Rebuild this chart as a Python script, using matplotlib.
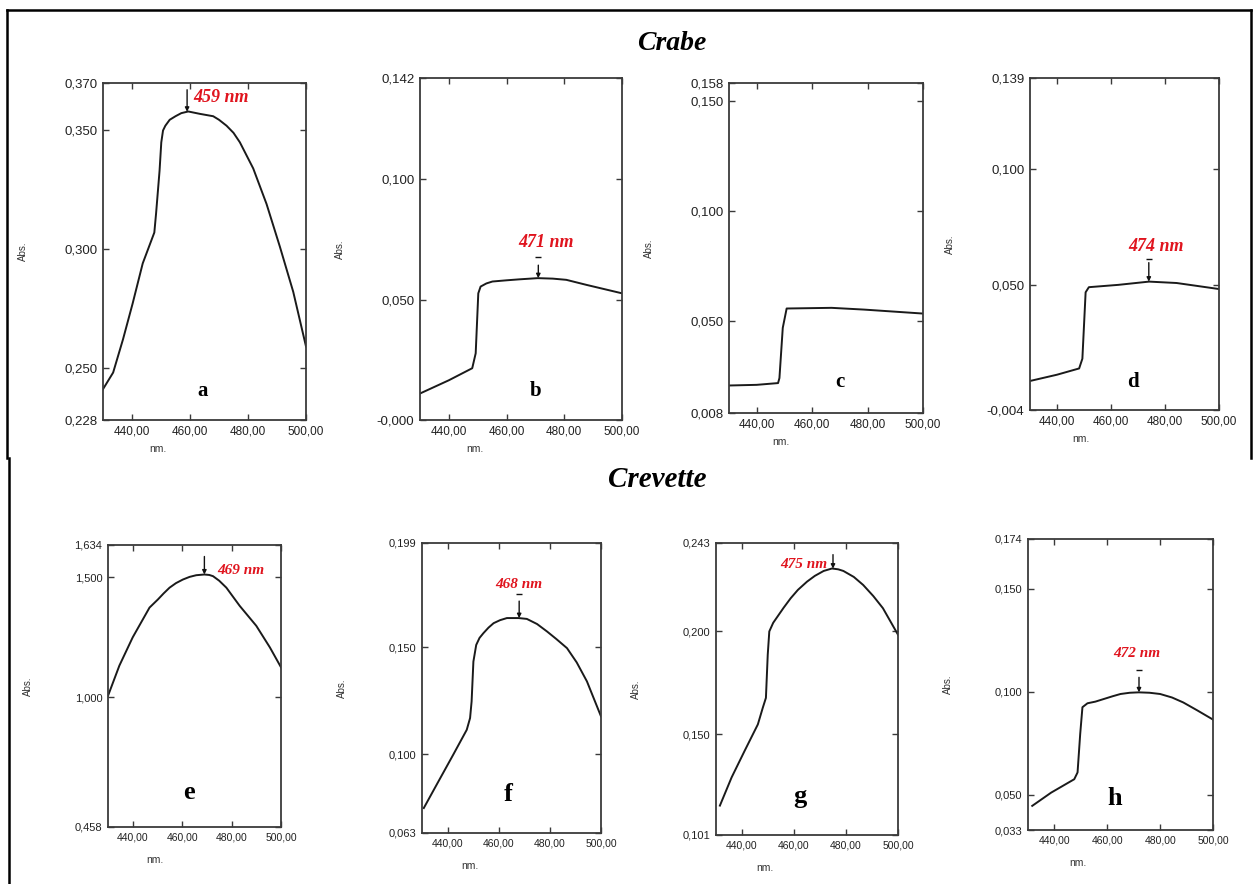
import numpy as np
import matplotlib
matplotlib.use('Agg')
import matplotlib.pyplot as plt
from matplotlib.lines import Line2D
from matplotlib.transforms import ScaledTranslation

# Spectra (wavelength in nm, absorbance)
wl_a = [430, 433.5, 436.9, 440.2, 443.7, 447.7, 448.3, 449.5, 450.1, 450.7, 451.5, 453, 455, 457,
        459.4, 463.4, 468, 470, 472.6, 475, 477.2, 481.8, 486.4, 491, 495.6, 500]
abs_a = [0.241, 0.248, 0.262, 0.277, 0.294, 0.307, 0.315, 0.333, 0.345, 0.350, 0.352, 0.3545,
         0.356, 0.3573, 0.358, 0.357, 0.356, 0.3545, 0.352, 0.349, 0.345, 0.334, 0.319, 0.301,
         0.282, 0.259]

wl_b = [430, 440, 448.1, 449.3, 450.2, 451, 453, 455.1, 460, 464.4, 470.8, 476, 480.7, 487.7, 500]
abs_b = [0.011, 0.0165, 0.0215, 0.0277, 0.0526, 0.0554, 0.0567, 0.0575, 0.058, 0.0584, 0.0589,
         0.0587, 0.0582, 0.0561, 0.0526]

wl_c = [430, 440, 447.7, 448.2, 449.4, 450.8, 467, 478.8, 500]
abs_c = [0.0205, 0.0208, 0.0216, 0.0239, 0.0467, 0.0555, 0.0558, 0.0550, 0.0532]

wl_d = [430, 440, 448.2, 449.4, 450.6, 451.8, 462.7, 474.1, 484.3, 500]
abs_d = [0.0085, 0.0112, 0.0139, 0.0181, 0.0467, 0.0489, 0.0499, 0.0513, 0.0507, 0.0481]

wl_e = [430, 434.6, 440, 446.8, 450.2, 452.5, 454.9, 457.5, 460.3, 463, 465.7, 469, 471,
        472.5, 475, 477.9, 483.3, 490, 495.5, 500]
abs_e = [1.005, 1.131, 1.249, 1.373, 1.407, 1.432, 1.456, 1.475, 1.490, 1.501, 1.508, 1.511,
         1.509, 1.504, 1.485, 1.456, 1.380, 1.297, 1.207, 1.124]

wl_f = [430.7, 435.7, 442.2, 447.5, 448.8, 449.4, 450.1, 451.2, 452.5, 454, 456, 458, 460.5,
        463.2, 467.8, 471, 475, 478.9, 482.5, 486.7, 490.5, 494.5, 500]
abs_f = [0.0747, 0.0856, 0.0997, 0.1114, 0.1169, 0.1247, 0.1434, 0.1512, 0.1545, 0.1567, 0.1593,
         0.1614, 0.1628, 0.1638, 0.1638, 0.1634, 0.1610, 0.1575, 0.1540, 0.1497, 0.1430, 0.1341,
         0.1177]

wl_g = [431.5, 436, 441, 446.1, 448, 449.2, 449.9, 450.5, 452, 453.7, 456, 458.7, 461.5, 465,
        468, 471.4, 474.6, 477, 479, 483, 486.6, 490.5, 494.2, 500]
abs_g = [0.1153, 0.129, 0.1419, 0.1548, 0.1629, 0.1677, 0.1887, 0.200, 0.2042, 0.2073, 0.2115,
         0.2161, 0.2202, 0.2242, 0.2270, 0.2294, 0.2306, 0.2302, 0.2294, 0.2265, 0.2226, 0.2172,
         0.2113, 0.1984]

wl_h = [431.6, 438.75, 447.5, 448.75, 449.75, 450.6, 452.5, 455.5, 458.75, 462, 465, 468.5,
        471.9, 476, 480, 484.5, 488.75, 494, 500]
abs_h = [0.0447, 0.0511, 0.0576, 0.0609, 0.0795, 0.0925, 0.0944, 0.0952, 0.0965, 0.0978, 0.0989,
         0.0995, 0.0997, 0.0995, 0.0989, 0.0972, 0.0948, 0.0910, 0.0865]

letters = ['a', 'b', 'c', 'd', 'e', 'f', 'g', 'h']
peaks = [459, 471, None, 474, 469, 468, 475, 472]
ylims = [(0.228, 0.370), (0.0, 0.142), (0.008, 0.158), (-0.004, 0.139),
         (0.458, 1.634), (0.063, 0.199), (0.101, 0.243), (0.033, 0.174)]
yticks = [[0.228, 0.250, 0.300, 0.350, 0.370],
          [0.0, 0.050, 0.100, 0.142],
          [0.008, 0.050, 0.100, 0.150, 0.158],
          [-0.004, 0.050, 0.100, 0.139],
          [0.458, 1.000, 1.500, 1.634],
          [0.063, 0.100, 0.150, 0.199],
          [0.101, 0.150, 0.200, 0.243],
          [0.033, 0.050, 0.100, 0.150, 0.174]]
xticks = [440, 460, 480, 500]

spectra = [(wl_a, abs_a), (wl_b, abs_b), (wl_c, abs_c), (wl_d, abs_d),
           (wl_e, abs_e), (wl_f, abs_f), (wl_g, abs_g), (wl_h, abs_h)]

W, H = 1253, 884
# axes boxes in pixels: left, top, right, bottom
boxes = [(103, 83, 306, 420), (420, 78, 622, 420), (729, 83, 923, 413), (1030, 78, 1219, 410),
         (108, 545, 281, 827), (422, 543, 601, 833), (716, 543, 898, 835), (1028, 539, 1213, 830)]
# peak label: dx, dy (px from peak), ha, arrow length px, bar height px (0 = none)
marks = [(6, 14, 'left', 22, 0), (8, 36, 'center', 13, 21), None, (7, 35, 'center', 19, 23),
         (13, 4, 'left', 18, 0), (0, 34, 'center', 17, 24), (-6, 4, 'right', 14, 0),
         (-2, 39, 'center', 15, 22)]
letter_pos = [(0.49, 0.07), (0.57, 0.07), (0.57, 0.08), (0.545, 0.07),
              (0.47, 0.10), (0.48, 0.11), (0.46, 0.11), (0.47, 0.086)]

fig = plt.figure(figsize=(W / 100, H / 100), dpi=100)
sans = 'Liberation Sans'
serif = 'Liberation Serif'
edge = '#3a3a3a'

def fmt(v):
    s = '%.3f' % v
    if abs(v) < 1e-9:
        s = '-0.000'
    return s.replace('.', ',')

for i in range(8):
    l, t, r, b = boxes[i]
    ax = fig.add_axes([l / W, 1 - b / H, (r - l) / W, (b - t) / H])
    top_row = i < 4
    wl, ab = spectra[i]
    ax.plot(wl, ab, color='#1a1a1a', lw=1.4)
    ax.set_xlim(430, 500)
    ax.set_ylim(*ylims[i])
    ax.set_xticks(xticks)
    ax.set_xticklabels(['%d,00' % x for x in xticks], fontsize=8.5 if top_row else 7.5,
                       family=sans, color='#222222')
    ax.set_yticks(yticks[i])
    ax.set_yticklabels([fmt(v) for v in yticks[i]], fontsize=9.5 if top_row else 8,
                       family=sans, color='#222222')
    ax.tick_params(direction='in', top=True, right=True, length=4, width=1, color=edge, pad=4)
    for s in ax.spines.values():
        s.set_color(edge)
        s.set_linewidth(1.3)
    h_px = b - t
    ax.text(-80 / (r - l), 0.5, 'Abs.', rotation=90, transform=ax.transAxes,
            ha='center', va='center', fontsize=7, family=sans, color='#333333')
    ax.text(0.27, -(24 if top_row else 28) / h_px, 'nm.', transform=ax.transAxes,
            ha='center', va='top', fontsize=7.5, family=sans, color='#333333')
    lx, ly = letter_pos[i]
    ax.text(lx, ly, letters[i], transform=ax.transAxes, ha='center', va='baseline',
            fontsize=15 if top_row else 19, family=serif, fontweight='bold')

    if peaks[i] is not None:
        dx, dy, ha, alen, bar = marks[i]
        px = peaks[i]
        py = np.interp(px, wl, ab)
        ax.annotate('', xy=(px, py), xytext=(0, alen * 0.72), textcoords='offset points',
                    arrowprops=dict(arrowstyle='-|>', color='#111111', lw=1.0,
                                    mutation_scale=6, shrinkA=0, shrinkB=0))
        if bar:
            tr = ax.transData + ScaledTranslation(0, bar / 100, fig.dpi_scale_trans)
            ax.plot([px], [py], marker='_', ms=5, mew=1.0, color='#111111', transform=tr)
        ax.annotate('%d nm' % px, xy=(px, py), xytext=(dx * 0.72, dy * 0.72),
                    textcoords='offset points', ha=ha, va='center', color='#e0141e',
                    fontsize=13 if top_row else 11, family=serif, fontweight='bold',
                    style='italic')

fig.text(672 / W, 1 - 43 / H, 'Crabe', ha='center', va='center', fontsize=20,
         family=serif, fontweight='bold', style='italic')
fig.text(657 / W, 1 - 480 / H, 'Crevette', ha='center', va='center', fontsize=21,
         family=serif, fontweight='bold', style='italic')

# frame lines around the panels
for xs, ys in [([7, 1251], [10, 10]), ([7, 7], [10, 458]), ([1251, 1251], [10, 458]),
               ([9, 9], [458, 884])]:
    fig.add_artist(Line2D([x / W for x in xs], [1 - y / H for y in ys], color='black', lw=1.8))

fig.savefig('out.png', dpi=100)
